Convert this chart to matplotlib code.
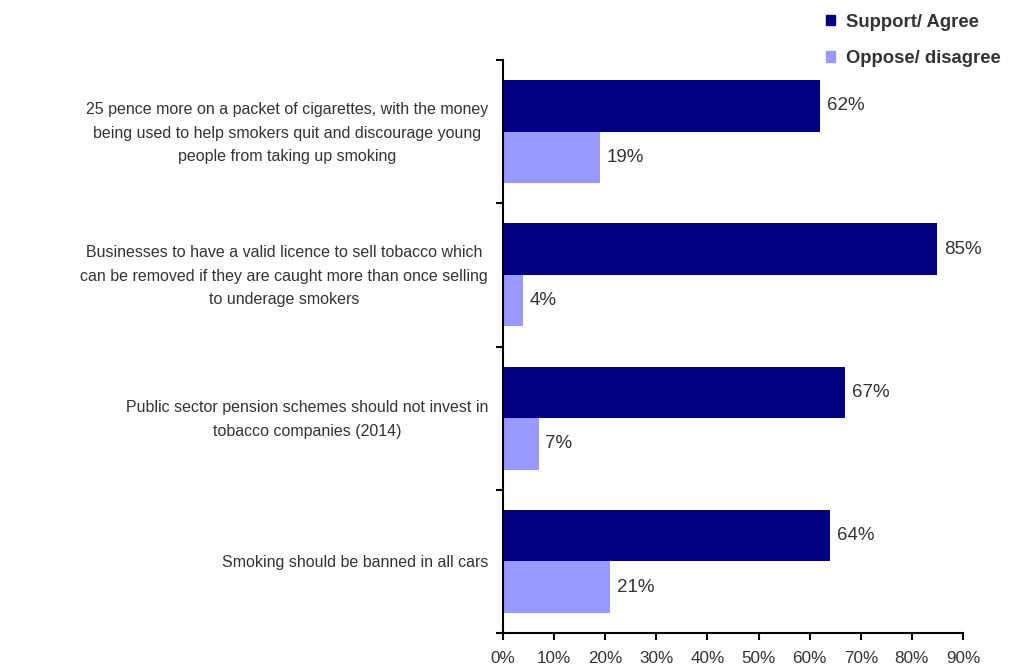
import numpy as np
import matplotlib.pyplot as plt
import matplotlib.transforms as mtransforms
from matplotlib.patches import Patch
from matplotlib.ticker import FixedLocator

plt.rcParams['font.family'] = ['Liberation Sans', 'DejaVu Sans']

categories = [
    "25 pence more on a packet of cigarettes, with the money\nbeing used to help smokers quit and discourage young\npeople from taking up smoking",
    "Businesses to have a valid licence to sell tobacco which\ncan be removed if they are caught more than once selling\nto underage smokers",
    "Public sector pension schemes should not invest in\ntobacco companies (2014)",
    "Smoking should be banned in all cars",
]
support = [62, 85, 67, 64]
oppose = [19, 4, 7, 21]
series_names = ["Support/ Agree", "Oppose/ disagree"]
x_ticks = list(range(0, 100, 10))

dark = "#000080"
light = "#9999ff"
txt = "#333333"

fig = plt.figure(figsize=(10.09, 6.68), dpi=100)
ax = fig.add_axes([503 / 1009, 35 / 668, 460 / 1009, 573 / 668])

y = np.arange(len(categories))
h = 0.36
ax.barh(y - h / 2, support, height=h, color=dark)
ax.barh(y + h / 2, oppose, height=h, color=light)

# value labels next to bar ends
for yi, v in zip(y, support):
    ax.text(v + 1.3, yi - h / 2, f"{v}%", va="center", ha="left", fontsize=13.5, color=txt)
for yi, v in zip(y, oppose):
    ax.text(v + 1.3, yi + h / 2, f"{v}%", va="center", ha="left", fontsize=13.5, color=txt)

ax.set_xlim(0, 90)
ax.set_ylim(len(categories) - 0.5, -0.5)

ax.set_xticks(x_ticks)
ax.set_xticklabels([f"{t}%" for t in x_ticks], fontsize=12.3, color=txt)
ax.tick_params(axis="x", length=5, width=1.5, pad=8, direction="out")

# category labels as text, centred lines, right edge just left of the axis
ax.set_yticks([])
lab_tr = mtransforms.offset_copy(ax.get_yaxis_transform(), fig=fig, x=-15, y=-1.5, units="dots")
for yi, name in zip(y, categories):
    ax.text(0, yi, name, transform=lab_tr, ha="right", va="center",
            multialignment="center", linespacing=1.7, fontsize=11.5, color=txt)

ax.yaxis.set_minor_locator(FixedLocator(np.arange(len(categories) + 1) - 0.5))
ax.tick_params(axis="y", which="minor", length=5, width=1.5, direction="out")

for s in ["top", "right"]:
    ax.spines[s].set_visible(False)
for s in ["left", "bottom"]:
    ax.spines[s].set_linewidth(1.5)

handles = [Patch(color=dark), Patch(color=light)]
leg = fig.legend(handles, series_names, loc="upper left",
                 bbox_to_anchor=(809 / 1009, 1 + 3 / 668), frameon=False,
                 handlelength=0.5, handleheight=0.5, handletextpad=0.6,
                 labelspacing=1.05, prop={"weight": "bold", "size": 13.3})
for t in leg.get_texts():
    t.set_color(txt)

fig.savefig("out.png", dpi=100)
